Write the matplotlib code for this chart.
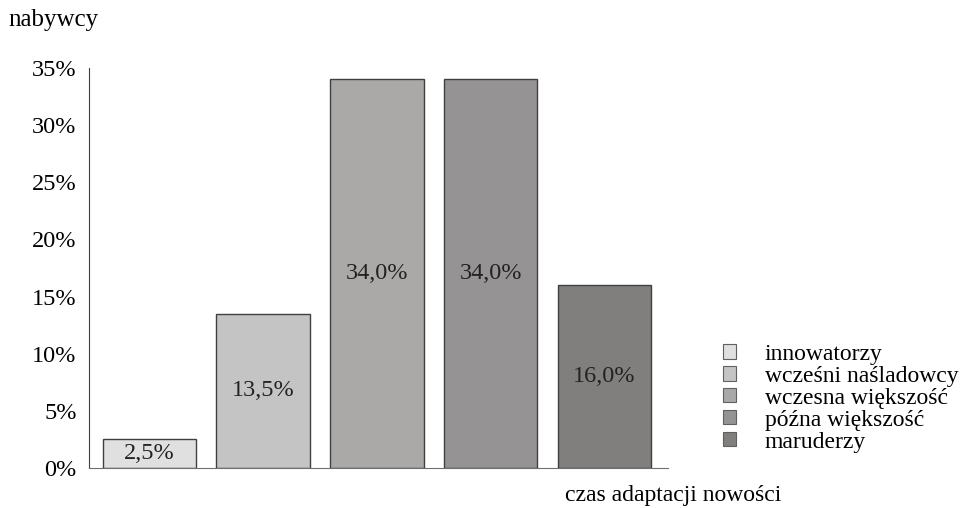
import matplotlib.pyplot as plt
from matplotlib.patches import Patch

categories = ["innowatorzy", "wcześni naśladowcy", "wczesna większość", "późna większość", "maruderzy"]
values = [2.5, 13.5, 34.0, 34.0, 16.0]
colors = ["#e0e0e0", "#c4c4c4", "#aaa9a7", "#959394", "#807f7d"]
ticks = [0, 5, 10, 15, 20, 25, 30, 35]

plt.rcParams['font.family'] = ['Liberation Serif', 'DejaVu Serif']

fig = plt.figure(figsize=(9.61, 5.08), dpi=100)
ax = fig.add_axes([89 / 961, 40 / 508, 579 / 961, 400 / 508])

x = range(len(values))
ax.bar(x, values, width=0.82, color=colors, edgecolor="#404040", linewidth=1)
for i, v in zip(x, values):
    ax.text(i, v / 2, f"{v:.1f}%".replace(".", ","), ha="center", va="center", fontsize=17.5, color="#222222")

ax.set_xlim(-0.53, 4.557)
ax.set_ylim(0, 35)
ax.set_yticks(ticks)
ax.set_yticklabels([f"{t}%" for t in ticks], fontsize=17.5)
ax.set_xticks([])
ax.tick_params(axis="y", length=0, pad=9)
ax.spines["top"].set_visible(False)
ax.spines["right"].set_visible(False)
ax.spines["left"].set_color("#404040")
ax.spines["bottom"].set_color("#707070")

handles = [Patch(facecolor=c, edgecolor="#606060", linewidth=0.8) for c in colors]
fig.legend(handles, categories, loc="upper left", bbox_to_anchor=(711 / 961, 1 - 332 / 508),
           frameon=False, fontsize=17, handlelength=0.55, handleheight=0.55,
           handletextpad=1.23, labelspacing=0.04, borderpad=0)

fig.text(8 / 961, 1 - 20 / 508, "nabywcy", fontsize=18, va="center", ha="left")
fig.text(565 / 961, 1 - 495 / 508, "czas adaptacji nowości", fontsize=17, va="center", ha="left")

fig.savefig("out.png", dpi=100)
